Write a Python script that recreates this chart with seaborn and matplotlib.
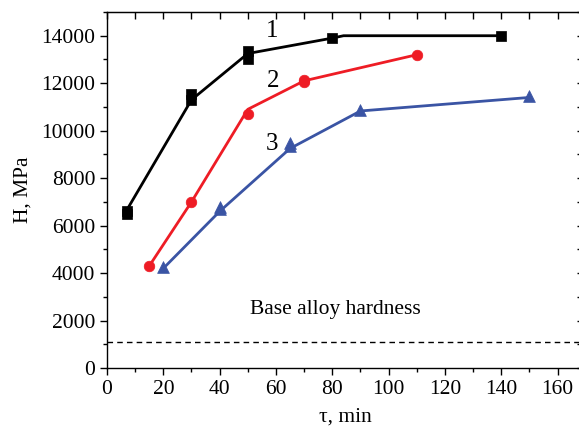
import matplotlib
matplotlib.use("Agg")
import matplotlib.pyplot as plt
import seaborn as sns
import pandas as pd
from matplotlib.ticker import MultipleLocator

# ---- data ----
# fitted/guide lines
line1_x = [7, 30, 50, 80, 84, 140]
line1_y = [6650, 11300, 13250, 13900, 14000, 14000]
line2_x = [15, 30, 50, 70, 110]
line2_y = [4300, 7000, 10900, 12100, 13200]
line3_x = [20, 40, 65, 90, 150]
line3_y = [4200, 6600, 9250, 10830, 11400]

# measured points
pts1_x = [7, 7, 30, 30, 50, 50, 80, 140]
pts1_y = [6500, 6600, 11300, 11550, 13000, 13350, 13900, 14000]
pts2_x = [15, 30, 50, 70, 70, 110]
pts2_y = [4300, 7000, 10700, 12050, 12150, 13200]
pts3_x = [20, 40, 40, 65, 65, 90, 150]
pts3_y = [4250, 6680, 6800, 9350, 9480, 10860, 11460]

base_hardness = 1100
curve_labels = ["1", "2", "3"]
label_x = [58.5, 59, 58.5]
label_y = [14200, 12100, 9420]

colors = ["#000000", "#ee1c25", "#3a54a4"]

sns.set_style("ticks")
plt.rcParams["font.family"] = ["Liberation Serif", "DejaVu Serif"]
plt.rcParams["mathtext.fontset"] = "stix"
plt.rcParams["text.color"] = "black"
plt.rcParams["axes.labelcolor"] = "black"
plt.rcParams["xtick.color"] = "black"
plt.rcParams["ytick.color"] = "black"

fig = plt.figure(figsize=(5.79, 4.28), dpi=100)
ax = fig.add_axes([0.1848, 0.140, 0.822, 0.832])

lines = [(line1_x, line1_y), (line2_x, line2_y), (line3_x, line3_y)]
pts = [(pts1_x, pts1_y, "s", 42), (pts2_x, pts2_y, "o", 58), (pts3_x, pts3_y, "^", 72)]

for (lx, ly), (px, py, mk, sz), c in zip(lines, pts, colors):
    sns.lineplot(x=lx, y=ly, ax=ax, color=c, lw=2.0, sort=False,
                 estimator=None, zorder=2)
    sns.scatterplot(x=px, y=py, ax=ax, color=c, marker=mk, s=sz,
                    edgecolor=c, linewidth=0.5, zorder=3)

ax.axhline(base_hardness, color="black", lw=1.0, dashes=(4, 3), zorder=1)
ax.text(81, 2450, "Base alloy hardness", fontsize=15.5, ha="center", va="center",
        color="black")

for t, x, y in zip(curve_labels, label_x, label_y):
    ax.text(x, y, t, fontsize=18, ha="center", va="center", color="black")

ax.set_xlim(0, 169)
ax.set_ylim(0, 15000)
ax.xaxis.set_major_locator(MultipleLocator(20))
ax.xaxis.set_minor_locator(MultipleLocator(10))
ax.yaxis.set_major_locator(MultipleLocator(2000))
ax.yaxis.set_minor_locator(MultipleLocator(1000))

for s in ax.spines.values():
    s.set_linewidth(1.0)
    s.set_color("black")
ax.tick_params(axis="both", which="major", direction="out", length=5, width=1.0,
               labelsize=15.5, colors="black", top=False, right=False)
ax.tick_params(axis="both", which="minor", direction="out", length=3, width=1.0,
               colors="black", top=False, right=False)

# inward ticks on top and right
axt = ax.secondary_xaxis("top")
axt.xaxis.set_major_locator(MultipleLocator(10))
axt.tick_params(direction="in", length=5, width=1.0, labeltop=False, colors="black")
axr = ax.secondary_yaxis("right")
axr.yaxis.set_major_locator(MultipleLocator(1000))
axr.tick_params(direction="in", length=4, width=1.0, labelright=False, colors="black")

ax.set_xlabel("τ, min", fontsize=15.5, labelpad=6, color="black")
ax.set_ylabel("H, MPa", fontsize=15.5, labelpad=6, color="black")

fig.savefig("out.png", dpi=100)
